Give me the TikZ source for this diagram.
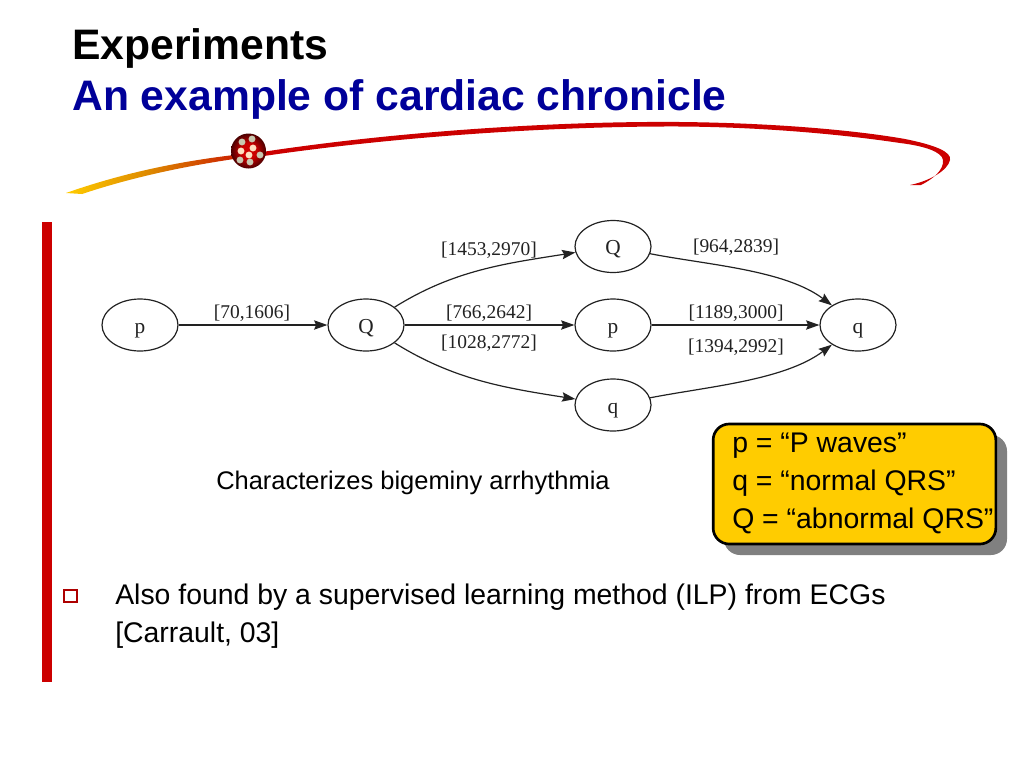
\documentclass[tikz,border=0pt]{standalone}
\usepackage{fontspec}
\setmainfont{Liberation Sans}
\newfontfamily\graphfont{Liberation Serif}
\usetikzlibrary{arrows.meta,shapes.geometric}
\definecolor{swred}{HTML}{CC0000}
\definecolor{swgold}{HTML}{FFCC00}
\definecolor{swmid}{HTML}{DD8800}
\definecolor{swend}{HTML}{CC2200}
\definecolor{titleblue}{HTML}{000099}
\definecolor{graphink}{HTML}{222222}
\definecolor{beadgrey}{HTML}{C8C8B0}
\definecolor{beadcream}{HTML}{FFE0C0}
\definecolor{balldark}{HTML}{160000}
\definecolor{shadowgrey}{HTML}{808080}
\pgfdeclareradialshading{ballshade}{\pgfpoint{0bp}{0bp}}{color(0bp)=(swred); color(11bp)=(swred); color(31bp)=(balldark); color(50bp)=(balldark)}
\tikzset{
  x=0.75pt,y=0.75pt,
  state/.style={draw=graphink,line width=0.9pt,ellipse,minimum width=57pt,minimum height=39pt,inner sep=0pt,text height=12pt,text depth=0pt,font=\graphfont\fontsize{16pt}{18pt}\selectfont,text=graphink},
  trans/.style={draw=graphink,line width=0.9pt,-{Stealth[length=10pt,width=7pt,inset=1.5pt]}},
  elabel/.style={inner sep=0pt,anchor=base,font=\graphfont\fontsize{14.6pt}{16pt}\selectfont,text=graphink},
  txt/.style={inner sep=0pt,anchor=base west,font=\fontsize{21.3pt}{25pt}\selectfont},
  ttl/.style={inner sep=0pt,anchor=base west,font=\bfseries\fontsize{32pt}{36pt}\selectfont},
  bead/.style={fill=#1,draw=none,circle,minimum size=5.2pt,inner sep=0pt},
}
\begin{document}
\begin{tikzpicture}
\useasboundingbox (0,0) rectangle (1024,-768);
% title
\node[ttl] (t1) at (72,-59) {Experiments};
\node[ttl,text=titleblue] (t2) at (72,-110) {An example of cardiac chronicle};
% swoosh
\shade[left color=swgold,right color=swend,middle color=swmid,shading angle=90,draw=none]
  (66,-193) .. controls (120,-174) and (175,-162) .. (234,-155)
  -- (234,-159) .. controls (180,-167) and (130,-178) .. (82,-194) -- cycle;
\fill[swred] (262,-152) .. controls (400,-131) and (560,-121) .. (680,-122)
  .. controls (780,-123) and (860,-131) .. (905,-139)
  .. controls (935,-145) and (952,-152) .. (950,-160)
  .. controls (948,-170) and (930,-181) .. (910,-185)
  -- (921,-185) .. controls (933,-179) and (944,-170) .. (943,-160)
  .. controls (942,-152) and (925,-146) .. (900,-143)
  .. controls (840,-134) and (760,-127) .. (680,-126.5)
  .. controls (560,-126) and (400,-136) .. (264,-156) -- cycle;
% ball
\shade[shading=ballshade,draw=none] (248.5,-151) circle[radius=17.5];
\foreach \px/\py/\c in {242/142/beadgrey,252/139/beadgrey,260/155/beadgrey,240/160/beadgrey,250/162/beadgrey,253/148/beadcream,241/151/beadcream,249/155/beadcream}
  \node[bead=\c] at (\px,-\py) {};
% red bar
\fill[swred] (42,-222) rectangle (52,-682);
% graph
\node[state] (n1) at (140,-325) {p};
\node[state] (n2) at (366,-325) {Q};
\node[state] (n3) at (613,-246.5) {Q};
\node[state] (n4) at (613,-325) {p};
\node[state] (n5) at (613,-405) {q};
\node[state] (n6) at (858,-325) {q};
\draw[trans] (n1) -- (n2);
\draw[trans] (n2) -- (n4);
\draw[trans] (n4) -- (n6);
\draw[trans] (n2) to[out=32,in=189,looseness=0.95] (n3);
\draw[trans] (n2) to[out=-32,in=171,looseness=0.95] (n5);
\draw[trans] (n3) to[out=-11,in=143,looseness=0.8] (n6);
\draw[trans] (n5) to[out=11,in=-143,looseness=0.8] (n6);
\node[elabel] (e1) at (252,-318) {[70,1606]};
\node[elabel] (e2) at (489,-255) {[1453,2970]};
\node[elabel] (e3) at (489,-318) {[766,2642]};
\node[elabel] (e4) at (489,-348) {[1028,2772]};
\node[elabel] (e5) at (736,-252) {[964,2839]};
\node[elabel] (e6) at (736,-318) {[1189,3000]};
\node[elabel] (e7) at (736,-352) {[1394,2992]};
% caption
\node[txt,font=\fontsize{19.1pt}{23pt}\selectfont] (cap) at (216,-489) {Characterizes bigeminy arrhythmia};
% legend
\fill[shadowgrey,rounded corners=12pt] (724,-435) rectangle (1007,-555);
\node[draw=black,line width=2pt,fill=swgold,rounded corners=12pt,minimum width=212pt,minimum height=90pt,inner sep=0pt] (box) at (854.5,-484) {};
\node[txt] (l1) at (732,-452) {p = “P waves”};
\node[txt] (l2) at (732,-490) {q = “normal QRS”};
\node[txt] (l3) at (732,-528) {Q = “abnormal QRS”};
% bullet
\node[draw=swred!85!black,fill=white,line width=1.4pt,minimum size=9.5pt,inner sep=0pt] (bul) at (70.5,-596) {};
\node[txt] (b1) at (115,-604) {Also found by a supervised learning method (ILP) from ECGs};
\node[txt] (b2) at (115,-642) {[Carrault, 03]};
\end{tikzpicture}
\end{document}
